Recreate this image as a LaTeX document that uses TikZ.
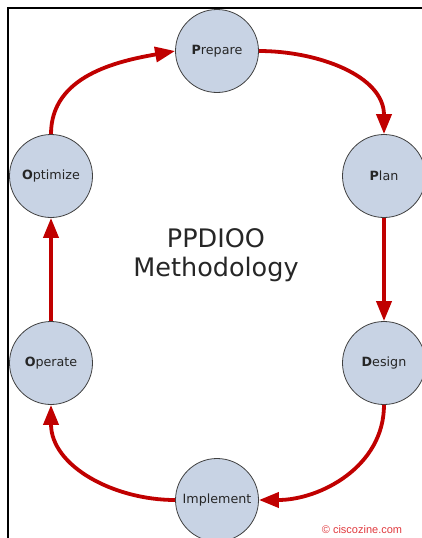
\documentclass[tikz,border=0pt]{standalone}
\usepackage{fontspec}
\setmainfont{DejaVu Sans}
\newfontfamily\markfont{Liberation Sans}
\usetikzlibrary{arrows.meta}
\definecolor{phasefill}{HTML}{C8D3E4}
\definecolor{flowred}{HTML}{C00000}
\definecolor{markred}{HTML}{E0393E}
\begin{document}
\begin{tikzpicture}[x=1pt,y=-1pt,
  phase/.style={circle,draw=black!75,line width=0.8pt,fill=phasefill,minimum size=83pt,inner sep=0pt,text=black!85,font=\fontsize{12.7}{14}\selectfont},
  flow/.style={line width=3.8pt,draw=flowred,-{Triangle[length=20pt,width=15pt]}}]
\useasboundingbox (0,0) rectangle (422,538);
\draw[line width=2pt] (8.3,540) -- (8.3,8.3) -- (424,8.3);
\node[phase] (prepare) at (217,51) {\textbf{P}repare};
\node[phase] (plan) at (384,176) {\textbf{P}lan};
\node[phase] (design) at (384,363) {\textbf{D}esign};
\node[phase] (implement) at (217,500) {Implement};
\node[phase] (operate) at (51,363) {\textbf{O}perate};
\node[phase] (optimize) at (51,176) {\textbf{O}ptimize};
\node[align=center,font=\fontsize{25.5}{29.5}\selectfont,text=black!85] (title) at (216,255) {PPDIOO\\Methodology};
\node[font=\markfont\fontsize{11}{13}\selectfont,text=markred] (mark) at (362,530) {\textcopyright{} ciscozine.com};
\draw[flow] (prepare.east) to[out=0,in=90] (plan.north);
\draw[flow] (plan.south) -- (design.north);
\draw[flow] (design.south) to[out=-90,in=0] (implement.east);
\draw[flow] (implement.west) to[out=180,in=-90] (operate.south);
\draw[flow] (operate.north) -- (optimize.south);
\draw[flow] (optimize.north) to[out=90,in=190] (prepare.west);
\end{tikzpicture}
\end{document}
